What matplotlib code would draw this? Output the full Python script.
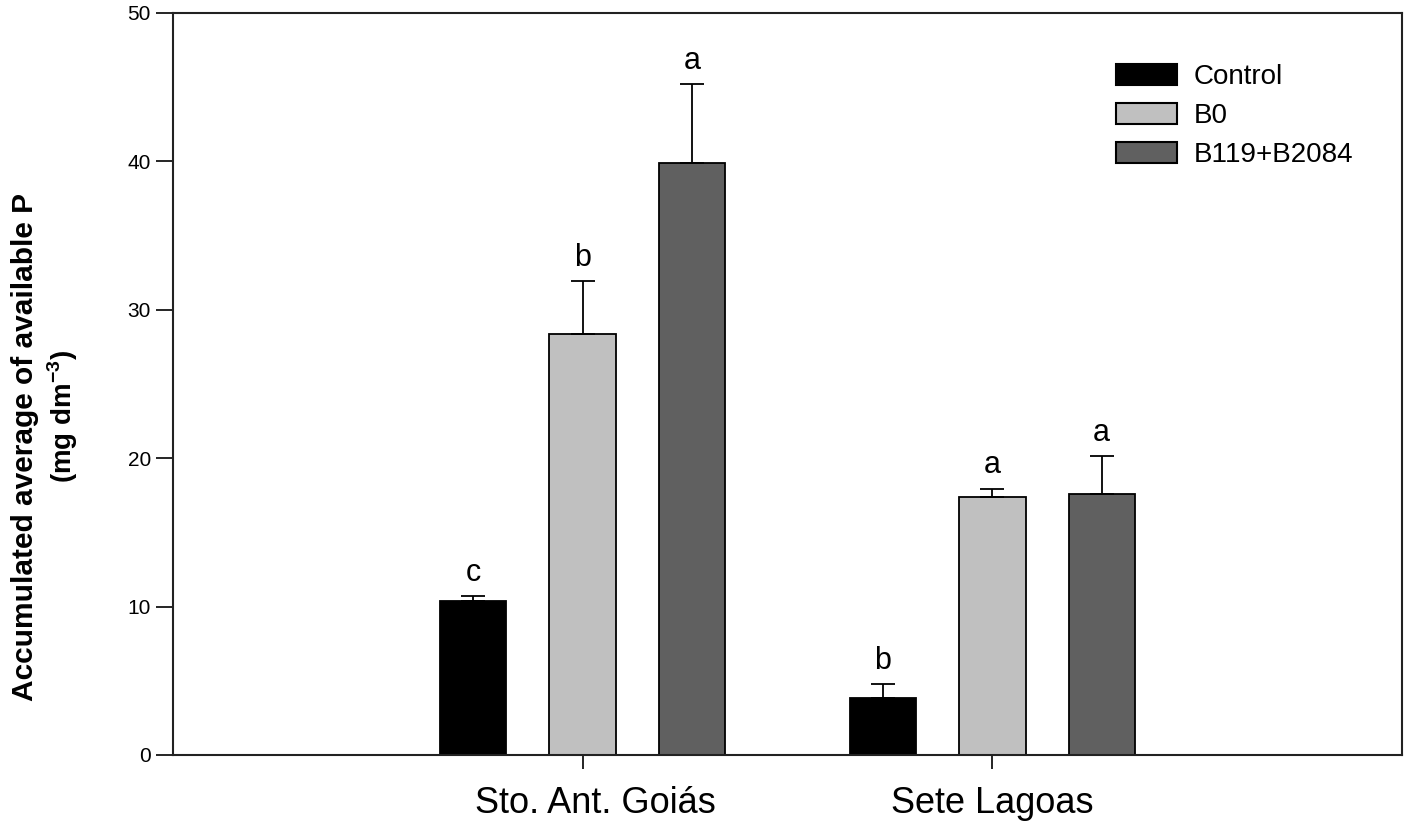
import matplotlib
matplotlib.use("Agg")
import matplotlib.pyplot as plt
import matplotlib.transforms as mtransforms
import numpy as np

plt.rcParams['font.family'] = ['Liberation Sans', 'DejaVu Sans']

sites = ["Sto. Ant. Goiás", "Sete Lagoas"]
treatments = ["Control", "B0", "B119+B2084"]
means = {
    "Control": [10.4, 3.85],
    "B0": [28.4, 17.4],
    "B119+B2084": [39.9, 17.6],
}
errors = {
    "Control": [0.3, 0.95],
    "B0": [3.55, 0.55],
    "B119+B2084": [5.3, 2.55],
}
letters = {
    "Control": ["c", "b"],
    "B0": ["b", "a"],
    "B119+B2084": ["a", "a"],
}
colors = {"Control": "#000000", "B0": "#c0c0c0", "B119+B2084": "#606060"}

fig = plt.figure(figsize=(14.06, 8.25), dpi=100)
ax = fig.add_axes([173/1406, 1 - 755/825, (1402-173)/1406, (755-13)/825])

xc = np.array([1, 2])
offs = [-0.267, 0, 0.267]
w = 0.162
for t, o in zip(treatments, offs):
    ax.bar(xc + o, means[t], width=w, color=colors[t], edgecolor="black",
           linewidth=1.3, label=t, zorder=2)
    ax.errorbar(xc + o, means[t], yerr=[np.zeros(2), errors[t]], fmt="none",
                ecolor="black", elinewidth=1.3, capsize=8.5, capthick=1.3, zorder=3)
    for x, m, e, l in zip(xc + o, means[t], errors[t], letters[t]):
        ax.text(x, m + e + 0.55, l, ha="center", va="bottom", fontsize=22)

ax.set_xlim(0, 3)
ax.set_ylim(0, 50)
ax.set_yticks([0, 10, 20, 30, 40, 50])
ax.set_xticks(xc)
ax.set_xticklabels(sites, fontsize=26)
ax.tick_params(axis="y", direction="out", length=12, width=1.2, labelsize=15, pad=4)
ax.tick_params(axis="x", direction="out", length=10, width=1.2, pad=12)
for s in ax.spines.values():
    s.set_linewidth(1.5)
    s.set_color("#222222")

lbl0 = ax.get_xticklabels()[0]
lbl0.set_transform(lbl0.get_transform() +
                   mtransforms.ScaledTranslation(13/100, 0, fig.dpi_scale_trans))

fig.text(25/1406, 1 - 447/825, "Accumulated average of available P", rotation=90,
         ha="center", va="center", fontsize=21.5, fontweight="bold")
fig.text(63/1406, 1 - 416/825, "(mg dm$^{\\mathregular{-3}}$)", rotation=90,
         ha="center", va="center", fontsize=20, fontweight="bold")

leg = ax.legend(loc="upper left", bbox_to_anchor=((1105-173)/1229, (755-53)/742),
                frameon=False, fontsize=20, handlelength=2.2, handleheight=0.8,
                labelspacing=0.45, handletextpad=0.6, borderaxespad=0)
for p in leg.get_patches():
    p.set_linewidth(1.5)

fig.savefig("out.png", dpi=100)
